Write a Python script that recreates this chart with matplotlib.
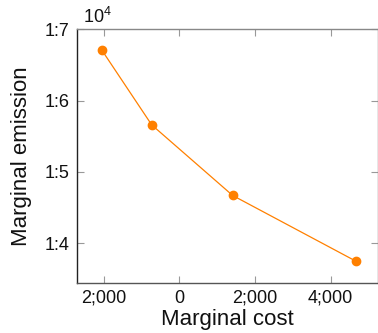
import matplotlib
matplotlib.use("Agg")
import matplotlib.pyplot as plt
from matplotlib.ticker import FixedLocator, FixedFormatter

plt.rcParams['font.family'] = ['Liberation Sans', 'DejaVu Sans']
plt.rcParams['mathtext.default'] = 'regular'

marginal_cost = [-2050, -730, 1410, 4680]
marginal_emission = [16710, 15660, 14670, 13745]

x_ticks = [-2000, 0, 2000, 4000]
x_tick_labels = ['2;000', '0', '2;000', '4;000']
y_ticks = [14000, 15000, 16000, 17000]
y_tick_labels = ['1:4', '1:5', '1:6', '1:7']

fig = plt.figure(figsize=(3.78, 3.33), dpi=100)
ax = fig.add_axes([0.203, 0.151, 0.797, 0.761])

ax.plot(marginal_cost, marginal_emission, color='#ff8000', lw=0.9,
        marker='o', ms=6, mec='#ff8000', mfc='#ff8000')

ax.set_xlim(-2711, 5250)
ax.set_ylim(13447, 17000)

ax.xaxis.set_major_locator(FixedLocator(x_ticks))
ax.xaxis.set_major_formatter(FixedFormatter(x_tick_labels))
ax.yaxis.set_major_locator(FixedLocator(y_ticks))
ax.yaxis.set_major_formatter(FixedFormatter(y_tick_labels))

ax.tick_params(axis='both', direction='in', length=5, width=0.8, color='#999999',
               labelsize=13, labelcolor='#111111', top=True, right=True, pad=5)

ax.spines['left'].set_color('#222222')
ax.spines['bottom'].set_color('#555555')
ax.spines['top'].set_color('#888888')
ax.spines['right'].set_color('#888888')
for s in ax.spines.values():
    s.set_linewidth(1.0)

ax.set_xlabel('Marginal cost', fontsize=16, color='#111111', labelpad=2)
ax.set_ylabel('Marginal emission', fontsize=16, color='#111111', labelpad=9)

ax.text(0.02, 1.01, '$10^4$', transform=ax.transAxes, fontsize=13,
        color='#111111', ha='left', va='bottom')

fig.savefig('out.png', dpi=100)
